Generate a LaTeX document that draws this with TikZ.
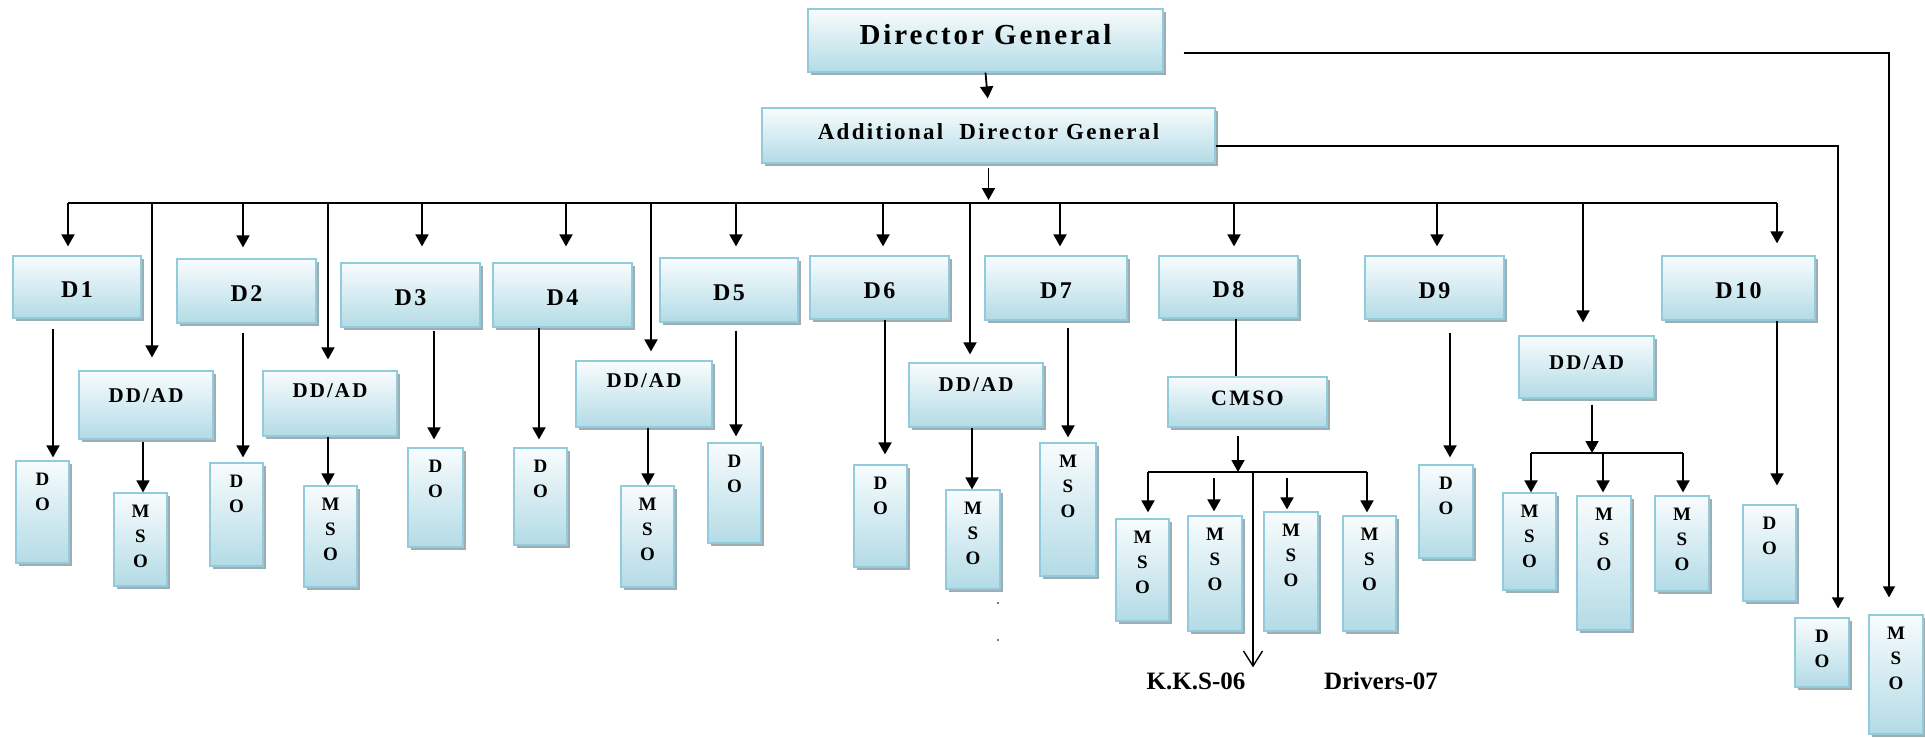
\documentclass[tikz,border=0pt]{standalone}
\usepackage{fontspec}
\setmainfont{Liberation Serif}
\newfontfamily\boxfont{Liberation Serif}[LetterSpace=10]
\usetikzlibrary{arrows.meta,shadows}
\definecolor{boxtop}{HTML}{F8FCFD}
\definecolor{boxbot}{HTML}{B3DBE6}
\definecolor{boxline}{HTML}{92CBDB}
\definecolor{shadowgray}{HTML}{8E9FA4}
\begin{document}
\begin{tikzpicture}[x=1pt,y=-1pt,
	box/.style={draw=boxline,line width=1.2pt,top color=boxtop,bottom color=boxbot,inner sep=0pt,
		drop shadow={shadow xshift=3pt,shadow yshift=-3pt,fill=shadowgray,opacity=.85}},
	dlbl/.style={font=\boxfont\bfseries\fontsize{24}{26}\selectfont,text height=22pt},
	ddlbl/.style={font=\boxfont\bfseries\fontsize{21}{23}\selectfont},
	stack/.style={anchor=north,align=center,inner sep=0pt,yshift=-12pt,
		font=\boxfont\bfseries\fontsize{19}{25}\selectfont},
	note/.style={inner sep=2pt,font=\bfseries\fontsize{25}{27}\selectfont},
	wire/.style={line width=1.8pt},
	arr/.style={wire,-{Triangle[width=13pt,length=12pt]}},
	link/.style={line width=1.4pt,-{Triangle[width=12pt,length=11pt]}}]
	\useasboundingbox (0,0) rectangle (1925,737);
	\path (68,203) coordinate (busW) (1777,203) coordinate (busE)
		(1148,472) coordinate (cbusW) (1367,472) coordinate (cbusE)
		(1531,453) coordinate (rbusW) (1683,453) coordinate (rbusE);
	\node[box,minimum width=355,minimum height=63,text depth=12pt,
		font=\boxfont\bfseries\fontsize{29}{31}\selectfont] (dg) at (985.5,40.5) {Director General};
	\node[box,minimum width=453,minimum height=55,text depth=8pt,
		font=\boxfont\bfseries\fontsize{23}{25}\selectfont] (adg) at (988.5,135.5) {Additional~~Director General};
	\foreach \l/\t/\r/\b [count=\i] in {13/256/141/318,177/259/316/323,341/263/480/327,493/263/632/327,
		660/258/798/322,810/256/949/319,985/256/1127/320,1159/256/1298/318,1365/256/1504/319,1662/256/1815/320}
		\node[box,dlbl,minimum width={\r-\l},minimum height={\b-\t}] (d\i) at ({(\l+\r)/2},{(\t+\b)/2}) {D\i};
	\foreach \l/\t/\r/\b/\up [count=\i] in {79/371/213/439/18,263/371/397/436/26,576/361/712/427/26,
		909/363/1043/427/20,1519/336/1654/398/8}
		\node[box,ddlbl,text depth=\up pt,minimum width={\r-\l},minimum height={\b-\t}] (dd\i) at ({(\l+\r)/2},{(\t+\b)/2}) {DD/AD};
	\node[box,ddlbl,font=\boxfont\bfseries\fontsize{22}{24}\selectfont,text depth=7pt,
		minimum width=159,minimum height=50] (cmso) at (1247.5,402) {CMSO};
	\foreach \n/\l/\t/\r/\b in {do1/16/461/69/563,do2/210/463/263/566,do3/408/448/463/547,do4/514/448/567/545,
		do5/708/443/761/543,do6/854/465/907/567,do9/1419/465/1473/558,do10/1743/505/1796/601,do11/1795/618/1849/687}
		\node[box,minimum width={\r-\l},minimum height={\b-\t},label={[stack]north:D\\O}] (\n) at ({(\l+\r)/2},{(\t+\b)/2}) {};
	\foreach \n/\l/\t/\r/\b in {ms1/114/493/167/586,ms2/304/486/357/587,ms3/621/486/674/587,ms4/946/490/1000/589,
		ms5/1040/443/1096/576,ms6/1116/519/1169/621,ms7/1188/516/1242/631,ms8/1264/512/1318/631,ms9/1343/516/1396/631,
		ms10/1503/493/1556/590,ms11/1577/496/1631/630,ms12/1655/496/1709/591,ms13/1869/615/1923/734}
		\node[box,minimum width={\r-\l},minimum height={\b-\t},label={[stack]north:M\\S\\O}] (\n) at ({(\l+\r)/2},{(\t+\b)/2}) {};
	\node[note] (kks) at (1196,681) {K.K.S-06};
	\node[note] (drv) at (1381,681) {Drivers-07};
	% head of the chart
	\draw[arr,shorten >=9pt] (dg.south) -- (adg.north);
	\draw[arr,shorten <=4pt,shorten >=3pt] (adg.south) -- (adg.south |- busW);
	\draw[wire] (busW) -- (busE);
	\foreach \n/\x/\g in {d1/68/9,dd1/152/13,d2/243/11,dd2/328/11,d3/422/16,d4/566/16,dd3/651/9,d5/736/11,
		d6/883/9,dd4/970/8,d7/1060/9,d8/1234/9,d9/1437/9,dd5/1583/13,d10/1777/12}
		\draw[arr,shorten >=\g pt] (busW -| \x,0) -- (\x,0 |- \n.north);
	\foreach \a/\b/\x/\s/\e in {d1/do1/53/10/3,dd1/ms1/143/2/0,d2/do2/243/9/5,dd2/ms2/328/0/0,d3/do3/434/3/8,
		d4/do4/539/0/8,dd3/ms3/648/0/0,d5/do5/736/8/6,d6/do6/885/0/10,dd4/ms4/972/0/0,d7/ms5/1068/7/5,
		d9/do9/1450/13/7,d10/do10/1777/0/19}
		\draw[arr,shorten <=\s pt,shorten >=\e pt] (\x,0 |- \a.south) -- (\x,0 |- \b.north);
	% D8 branch
	\draw[wire] (1236,0 |- d8.south) -- (1236,0 |- cmso.north);
	\draw[arr,shorten <=8pt] (1238,0 |- cmso.south) -- (cbusW -| 1238,0);
	\draw[wire] (cbusW) -- (cbusE);
	\foreach \n/\x/\s/\e in {ms6/1148/0/6,ms7/1214/6/4,ms8/1287/6/2,ms9/1367/0/3}
		\draw[arr,shorten <=\s pt,shorten >=\e pt] (cbusW -| \x,0) -- (\x,0 |- \n.north);
	\draw[wire,line width=1.4pt,-{Straight Barb[length=15pt,width=19pt]},shorten >=3pt] (cbusW -| 1253,0) -- (1253,0 |- kks.north);
	% last DD/AD
	\draw[arr,shorten <=6pt] (1592,0 |- dd5.south) -- (rbusW -| 1592,0);
	\draw[wire] (rbusW) -- (rbusE);
	\foreach \n/\x/\e in {ms10/1531/0,ms11/1603/3,ms12/1683/3}
		\draw[arr,shorten >=\e pt] (rbusW -| \x,0) -- (\x,0 |- \n.north);
	% direct lines on the right
	\draw[link] ([xshift=20pt,yshift=-12.5pt]dg.east) -| ([xshift=-7pt,yshift=17pt]ms13.north);
	\draw[link] ([yshift=-10.5pt]adg.east) -| ([xshift=16pt,yshift=9pt]do11.north);
	\fill[black!70] (998,603) circle[radius=1.2pt] (998,640) circle[radius=1.2pt];
\end{tikzpicture}
\end{document}
